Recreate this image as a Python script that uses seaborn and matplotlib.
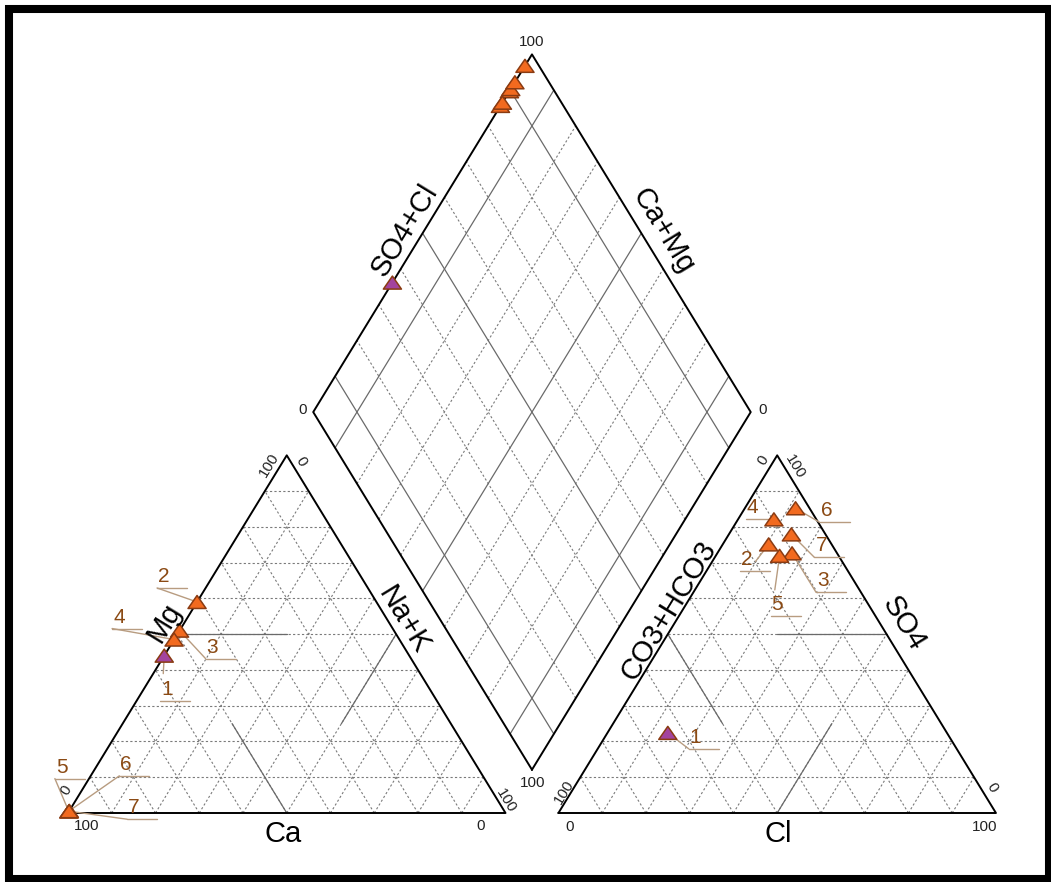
import numpy as np
import pandas as pd
import matplotlib
matplotlib.use("Agg")
import matplotlib.pyplot as plt
from matplotlib.path import Path
from matplotlib.patches import Rectangle
import seaborn as sns

# Piper diagram: 7 water samples

sns.set_theme(style="white")
plt.rcParams["font.family"] = ["Liberation Sans", "DejaVu Sans"]

# ---------------------------------------------------------------- data
samples = ["1", "2", "3", "4", "5", "6", "7"]
ca = [56.0, 41.0, 49.0, 51.5, 99.6, 99.4, 99.5]
mg = [44.0, 59.0, 51.0, 48.5, 0.4, 0.6, 0.5]
na_k = [0.0, 0.0, 0.0, 0.0, 0.0, 0.0, 0.0]
hco3 = [63.8, 14.4, 10.3, 9.7, 13.5, 3.2, 7.8]
so4 = [22.4, 75.1, 72.6, 82.1, 71.9, 85.2, 77.9]
cl = [13.8, 10.5, 17.1, 8.2, 14.6, 11.6, 14.3]
group = ["b", "a", "a", "a", "a", "a", "a"]

# ---------------------------------------------------------------- geometry
W, H = 1051, 882
PXX, PXY = 437.5, 413.0          # pixels per unit, x and y
S3 = np.sqrt(3) / 2
GAP = 0.121
X2 = 1 + GAP                     # left corner of the anion triangle
CX = 1 + GAP / 2                 # centre line of the diamond
YB = GAP / 2 * np.sqrt(3)        # bottom corner of the diamond
ANG = np.degrees(np.arctan(S3 * PXY / (0.5 * PXX)))


def off(dx, dy):
    return dx / PXX, -dy / PXY


def cation_xy(c, m, n):
    t = c + m + n
    return n / t + 0.5 * m / t, S3 * m / t


def anion_xy(h, s, c):
    t = h + s + c
    return X2 + c / t + 0.5 * s / t, S3 * s / t


def diamond_xy(a, c):
    return CX + 0.5 * a - 0.5 * c, YB + S3 * (a + c)


df = pd.DataFrame({"sample": samples, "group": group})
df["cx"], df["cy"] = zip(*[cation_xy(*v) for v in zip(ca, mg, na_k)])
df["ax"], df["ay"] = zip(*[anion_xy(*v) for v in zip(hco3, so4, cl)])
df["a"] = [(s + c) / (h + s + c) for h, s, c in zip(hco3, so4, cl)]
df["c"] = [(a + b) / (a + b + n) for a, b, n in zip(ca, mg, na_k)]
df["dx"], df["dy"] = zip(*[diamond_xy(a, c) for a, c in zip(df["a"], df["c"])])

# ---------------------------------------------------------------- figure
fig = plt.figure(figsize=(W / 100, H / 100), dpi=100)
fig.set_facecolor("white")
ax = fig.add_axes([0, 0, 1, 1])
ax.set_xlim(-68 / PXX, (W - 68) / PXX)
ax.set_ylim(-69 / PXY, (H - 69) / PXY)
ax.axis("off")

dash = dict(color="#7a7a7a", lw=0.8, ls=(0, (2.0, 2.0)), zorder=1)
solid = dict(color="#6a6a6a", lw=0.9, zorder=2)
edge = dict(color="black", lw=1.4, zorder=3)

# triangle grids
for ox in (0, X2):
    for k in range(1, 10):
        f = k / 10
        ax.plot([ox + f / 2, ox + 1 - f / 2], [S3 * f, S3 * f], **dash)
        ax.plot([ox + f, ox + f + (1 - f) / 2], [0, S3 * (1 - f)], **dash)
        ax.plot([ox + f, ox + f / 2], [0, S3 * f], **dash)
    ax.plot([ox, ox + 1, ox + 0.5, ox], [0, 0, S3, 0], **edge)

# pinwheel subdivisions
ax.plot([0.25, 0.5], [S3 * 0.5, S3 * 0.5], **solid)
ax.plot([0.5, 0.375], [0, S3 * 0.25], **solid)
ax.plot([0.625, 0.75], [S3 * 0.25, S3 * 0.5], **solid)
ax.plot([X2 + 0.5, X2 + 0.75], [S3 * 0.5, S3 * 0.5], **solid)
ax.plot([X2 + 0.25, X2 + 0.375], [S3 * 0.5, S3 * 0.25], **solid)
ax.plot([X2 + 0.5, X2 + 0.625], [0, S3 * 0.25], **solid)

# diamond grid
for k in range(1, 10):
    f = k / 10
    sty = solid if k in (1, 5, 9) else dash
    p0, p1 = diamond_xy(f, 0), diamond_xy(f, 1)
    ax.plot([p0[0], p1[0]], [p0[1], p1[1]], **sty)
    p0, p1 = diamond_xy(0, f), diamond_xy(1, f)
    ax.plot([p0[0], p1[0]], [p0[1], p1[1]], **sty)
corners = [diamond_xy(0, 0), diamond_xy(1, 0), diamond_xy(1, 1), diamond_xy(0, 1), diamond_xy(0, 0)]
ax.plot([p[0] for p in corners], [p[1] for p in corners], **edge)

# ---------------------------------------------------------------- points
tri = Path([(-1, -0.72), (1, -0.72), (0, 0.72), (-1, -0.72)],
           [Path.MOVETO, Path.LINETO, Path.LINETO, Path.CLOSEPOLY])
pal = {"a": "#F26A1F", "b": "#A3449E"}
for xc, yc in (("cx", "cy"), ("ax", "ay"), ("dx", "dy")):
    sns.scatterplot(data=df, x=xc, y=yc, hue="group", palette=pal, marker=tri,
                    s=169, edgecolor="#8A3B12", linewidth=1.1, legend=False,
                    zorder=5, ax=ax)
ax.set_xlabel("")
ax.set_ylabel("")

# ---------------------------------------------------------------- sample labels
# offsets (px) of label underline start from the point, leader anchor in box
cat_lab = [(-4, 45, 0.1, 1.0), (-40, -14, 0, 0), (26, 28, 0, 0), (-62, -11, 0, 0),
           (-14, -33, 0, 0), (50, -35, 0, 0), (58, 8, 0, 0)]
an_lab = [(21, 16, 0, 0), (-29, 27, 0.53, 0.37), (24, 39, 0, 0), (-28, 0, 1, 0),
          (-9, 60, 0.14, 0.96), (24, 14, 0, 0), (23, 23, 0, 0)]
lab_col = "#8B4A14"
lead_col = "#B89C80"


def tag(x, y, text, spec):
    dx, dy, fx, fy = spec
    ox, oy = off(dx, dy)
    ux, uy = x + ox, y + oy
    wx, _ = off(30, 0)
    ax.plot([ux, ux + wx], [uy, uy], color=lead_col, lw=1.0, zorder=4)
    axx, ayy = off(30 * fx, -27 * fy)
    ax.plot([x, ux + axx], [y, uy + ayy], color=lead_col, lw=1.0, zorder=4)
    tx, ty = off(1, -6)
    ax.text(ux + tx, uy + ty, text, ha="left", va="baseline", fontsize=15,
            color=lab_col, zorder=6)


for i, r in df.iterrows():
    tag(r["cx"], r["cy"], r["sample"], cat_lab[i])
    tag(r["ax"], r["ay"], r["sample"], an_lab[i])

# ---------------------------------------------------------------- axis text
tick = dict(fontsize=11, color="#222222", ha="center", va="center", zorder=6)


def put(base, d, s, **kw):
    o = off(*d)
    ax.text(base[0] + o[0], base[1] + o[1], s, **kw)


T1, L1, R1 = (0.5, S3), (0, 0), (1, 0)
T2, L2, R2 = (X2 + 0.5, S3), (X2, 0), (X2 + 1, 0)
DT, DL, DR, DB = diamond_xy(1, 1), diamond_xy(0, 1), diamond_xy(1, 0), diamond_xy(0, 0)

put(T1, (-18, 10), "100", rotation=ANG, **tick)
put(T1, (14, 6), "0", rotation=-ANG, **tick)
put(L1, (-2, -23), "0", rotation=ANG, **tick)
put(L1, (19, 13), "100", **tick)
put(R1, (0, -12), "100", rotation=-ANG, **tick)
put(R1, (-25, 13), "0", **tick)

put(T2, (-14, 5), "0", rotation=ANG, **tick)
put(T2, (18, 11), "100", rotation=-ANG, **tick)
put(L2, (6, -21), "100", rotation=ANG, **tick)
put(L2, (11, 14), "0", **tick)
put(R2, (-4, -25), "0", rotation=-ANG, **tick)
put(R2, (-11, 14), "100", **tick)

put(DT, (0, -12), "100", **tick)
put(DL, (-11, -2), "0", **tick)
put(DR, (12, -2), "0", **tick)
put(DB, (1, 13), "100", **tick)

big = dict(fontsize=21, color="black", ha="center", va="center", zorder=6)
put((0.25, S3 / 2), (-13, -12), "Mg", rotation=ANG, **big)
put((0.75, S3 / 2), (7, -14), "Na+K", rotation=-ANG, **big)
put((0.5, 0), (-4, 21), "Ca", **big)
put((X2 + 0.25, S3 / 2), (1, -24), "CO3+HCO3", rotation=ANG, **big)
put((X2 + 0.75, S3 / 2), (17, -11), "SO4", rotation=-ANG, **big)
put((X2 + 0.5, 0), (1, 21), "Cl", **big)
mid_l = diamond_xy(0.5, 1)
mid_r = diamond_xy(1, 0.5)
put(mid_l, (-18, -3), "SO4+Cl", rotation=ANG, **big)
put(mid_r, (22, -2), "Ca+Mg", rotation=-ANG, **big)

# frame
fig.add_artist(Rectangle((9 / W, 3 / H), 1040 / W, 870 / H, transform=fig.transFigure,
                         fill=False, lw=5.8, ec="black"))

fig.savefig("out.png", dpi=100, facecolor="white")
